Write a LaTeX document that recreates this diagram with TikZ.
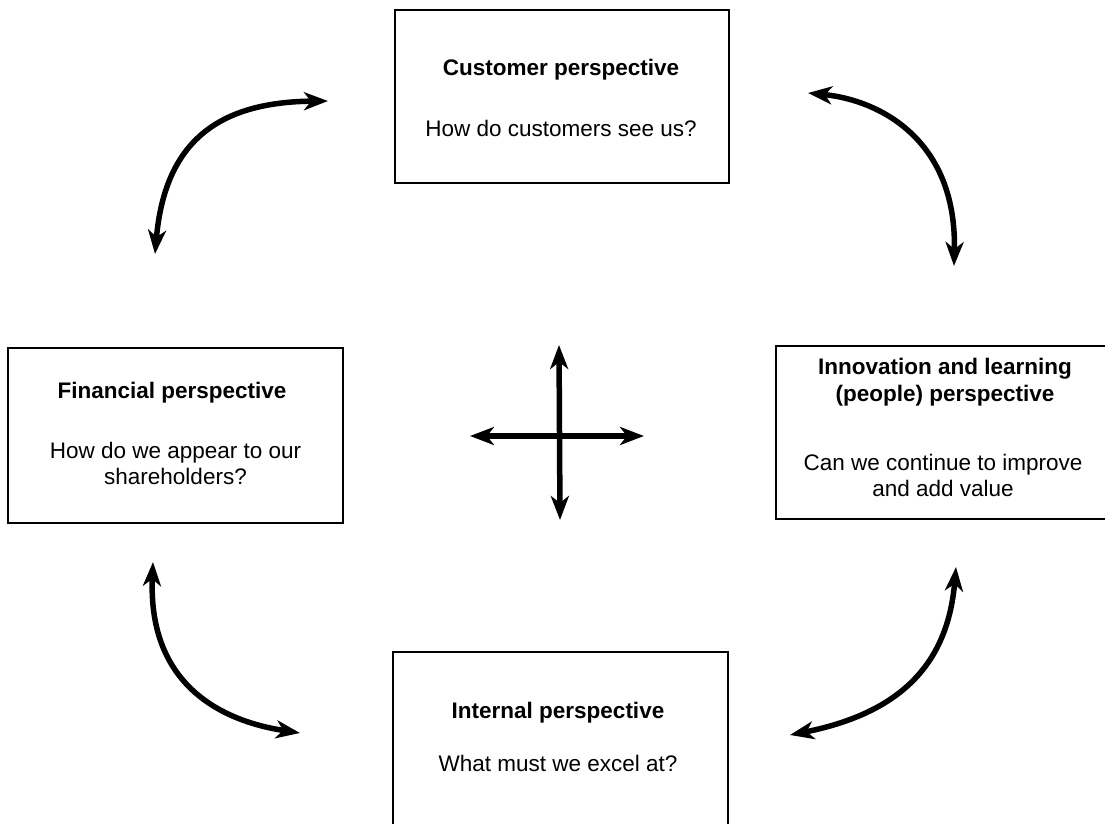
\documentclass[tikz,border=0pt]{standalone}
\usepackage{fontspec}
\setmainfont{Liberation Sans}
\usetikzlibrary{arrows.meta}
\begin{document}
\begin{tikzpicture}[x=1pt,y=-1pt,
  box/.style={draw, line width=1.4pt, inner sep=0pt},
  ttl/.style={font=\fontsize{22.5}{27}\selectfont\bfseries, align=center, inner sep=0pt},
  txt/.style={font=\fontsize{22.5}{26}\selectfont, align=center, inner sep=0pt},
  link/.style={line width=5.5pt, {Stealth[length=24pt,width=18pt,inset=7pt]}-{Stealth[length=24pt,width=18pt,inset=7pt]}}]
\clip (0,0) rectangle (1105,824);
% boxes
\node[box, minimum width=334pt, minimum height=173pt] (cust) at (562,96.5) {};
\node[box, minimum width=335pt, minimum height=175pt] (fin) at (175.5,435.5) {};
\node[box, minimum width=348pt, minimum height=173pt] (inno) at (950,432.5) {};
\node[box, minimum width=335pt, minimum height=174pt] (int) at (560.5,739) {};
% texts
\node[ttl] (custT) at (561,70) {Customer perspective};
\node[txt] (custS) at (561,128) {How do customers see us?};
\node[ttl] (finT) at (172,393) {Financial perspective};
\node[txt] (finS) at (175.5,463.5) {How do we appear to our\\shareholders?};
\node[ttl] (innoT) at (945,382) {Innovation and learning\\(people) perspective};
\node[txt] (innoS) at (943,475) {Can we continue to improve\\and add value};
\node[ttl] (intT) at (558,713) {Internal perspective};
\node[txt] (intS) at (558,763) {What must we excel at?};
% arrow end points
\coordinate (a1) at (155,254);
\coordinate (a2) at (328,101);
\coordinate (b1) at (808,93);
\coordinate (b2) at (954,266);
\coordinate (c1) at (153,562);
\coordinate (c2) at (300,733);
\coordinate (d1) at (956,567);
\coordinate (d2) at (790,735);
\coordinate (cu) at (559,345);
\coordinate (cd) at (560,520);
\coordinate (cl) at (470,436);
\coordinate (cr) at (644,436);
% curved arrows
\draw[link] (a1) .. controls (165,140) and (220,102) .. (a2);
\draw[link] (b1) .. controls (880,100) and (957,140) .. (b2);
\draw[link] (c1) .. controls (148,680) and (215,720) .. (c2);
\draw[link] (d1) .. controls (948,660) and (905,712) .. (d2);
% cross
\draw[link] (cl) -- (cr);
\draw[link] (cu) -- (cd);
\end{tikzpicture}
\end{document}
